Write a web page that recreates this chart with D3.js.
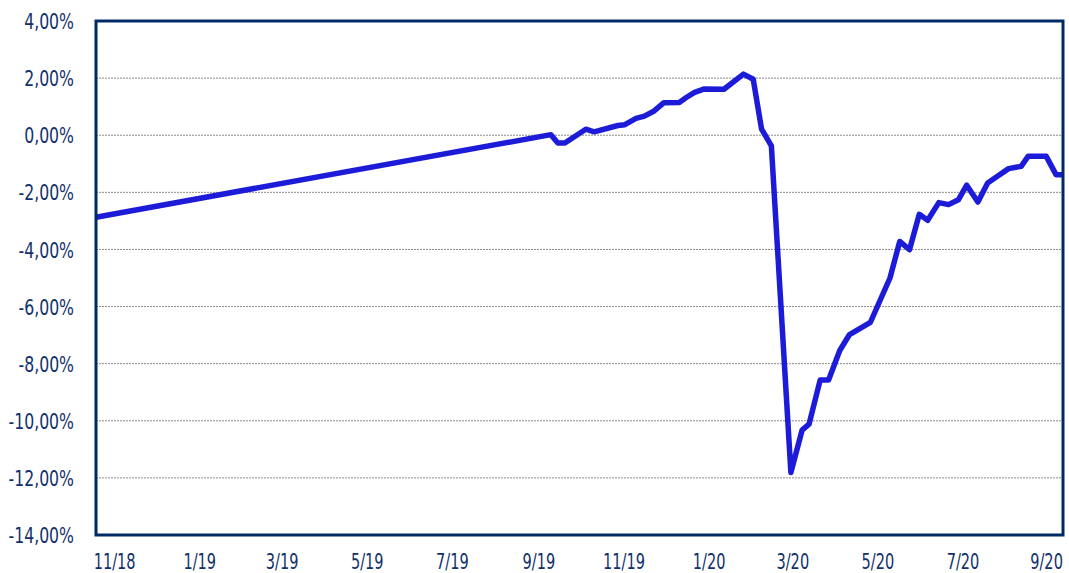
<!DOCTYPE html>
<html>
<head>
<meta charset="utf-8">
<script src="https://cdn.jsdelivr.net/npm/d3@7"></script>
<style>
  body { margin: 0; background: #fff; }
  .chart text { font-family: "Liberation Sans Narrow", "DejaVu Sans Condensed", sans-serif; font-size: 21px; fill: #12316a; }
</style>
</head>
<body>
<div class="chart"></div>
<script>
const width = 1069;
const height = 573;

const dates = [
  "2018-10-19",
  "2019-09-10", "2019-09-15", "2019-09-20", "2019-10-05", "2019-10-11",
  "2019-10-28", "2019-11-02", "2019-11-10", "2019-11-16", "2019-11-23",
  "2019-11-30", "2019-12-11", "2019-12-16", "2019-12-22", "2019-12-29",
  "2020-01-12", "2020-01-26", "2020-02-02", "2020-02-08", "2020-02-15",
  "2020-02-29", "2020-03-08", "2020-03-13", "2020-03-21", "2020-03-27",
  "2020-04-04", "2020-04-11", "2020-04-18", "2020-04-26", "2020-05-10",
  "2020-05-17", "2020-05-24", "2020-05-31", "2020-06-06", "2020-06-14",
  "2020-06-21", "2020-06-28", "2020-07-04", "2020-07-12", "2020-07-19",
  "2020-07-26", "2020-08-03", "2020-08-12", "2020-08-17", "2020-08-30",
  "2020-09-06", "2020-09-11"
];
const values = [
  -2.87,
  0.02, -0.27, -0.27, 0.21, 0.12,
  0.34, 0.37, 0.59, 0.67, 0.85,
  1.14, 1.15, 1.32, 1.50, 1.62,
  1.61, 2.14, 1.96, 0.21, -0.37,
  -11.81, -10.33, -10.12, -8.57, -8.57,
  -7.54, -6.98, -6.78, -6.55, -5.00,
  -3.72, -4.01, -2.77, -2.98, -2.36,
  -2.43, -2.26, -1.75, -2.34, -1.67,
  -1.44, -1.17, -1.09, -0.74, -0.74,
  -1.38, -1.38
];
const yTicks = [4, 2, 0, -2, -4, -6, -8, -10, -12, -14];

const margin = { top: 21, right: 6, bottom: 38, left: 96 };

const parse = d3.timeParse("%Y-%m-%d");
const data = dates.map((d, i) => ({ date: parse(d), value: values[i] }));

const locale = d3.formatLocale({
  decimal: ",", thousands: ".", grouping: [3], currency: ["", "€"], minus: "-"
});
const fmt = locale.format(".2f");

const svg = d3
  .select(".chart")
  .append("svg")
  .attr("width", width)
  .attr("height", height);

const x = d3
  .scaleTime()
  .domain(d3.extent(data, (d) => d.date))
  .range([margin.left, width - margin.right]);

const y = d3
  .scaleLinear()
  .domain([-14, 4])
  .range([height - margin.bottom, margin.top]);

// squeeze the labels to look like the condensed font of the original
function narrow(sel, k) {
  sel.each(function () {
    const w = this.getComputedTextLength();
    d3.select(this).attr("textLength", w * k).attr("lengthAdjust", "spacingAndGlyphs");
  });
}

// dotted gridlines
svg
  .append("g")
  .selectAll("line")
  .data(yTicks.filter((t) => t !== 4 && t !== -14))
  .enter()
  .append("line")
  .attr("x1", margin.left)
  .attr("x2", width - margin.right)
  .attr("y1", (d) => y(d))
  .attr("y2", (d) => y(d))
  .attr("stroke", "#8c8c8c")
  .attr("stroke-width", 1)
  .attr("stroke-dasharray", "2,1");

// y axis labels
svg
  .append("g")
  .attr("transform", `translate(${margin.left},0)`)
  .call(d3.axisLeft(y).tickValues(yTicks).tickSize(0).tickPadding(22).tickFormat((d) => fmt(d) + "%"))
  .call((g) => g.select(".domain").remove())
  .call((g) => g.selectAll("text").attr("font-family", null).attr("font-size", null).attr("fill", null).attr("dy", "0.36em").call(narrow, 0.83));

// x axis labels
svg
  .append("g")
  .attr("transform", `translate(0,${height - margin.bottom})`)
  .call(d3.axisBottom(x).ticks(d3.timeMonth.every(2)).tickSize(0).tickPadding(19).tickFormat(d3.timeFormat("%-m/%y")))
  .call((g) => g.select(".domain").remove())
  .call((g) => g.selectAll("text").attr("font-family", null).attr("font-size", null).attr("fill", null).call(narrow, 0.77))
  .call((g) => g.select(".tick:last-of-type text").attr("dx", -3));

// the series
const line = d3
  .line()
  .x((d) => x(d.date))
  .y((d) => y(d.value));

svg
  .append("path")
  .datum(data)
  .attr("fill", "none")
  .attr("stroke", "#1c1cd8")
  .attr("stroke-width", 5.5)
  .attr("stroke-linejoin", "round")
  .attr("d", line);

// plot frame
svg
  .append("rect")
  .attr("x", margin.left)
  .attr("y", margin.top)
  .attr("width", width - margin.left - margin.right)
  .attr("height", height - margin.top - margin.bottom)
  .attr("fill", "none")
  .attr("stroke", "#002a66")
  .attr("stroke-width", 3);
</script>
</body>
</html>
